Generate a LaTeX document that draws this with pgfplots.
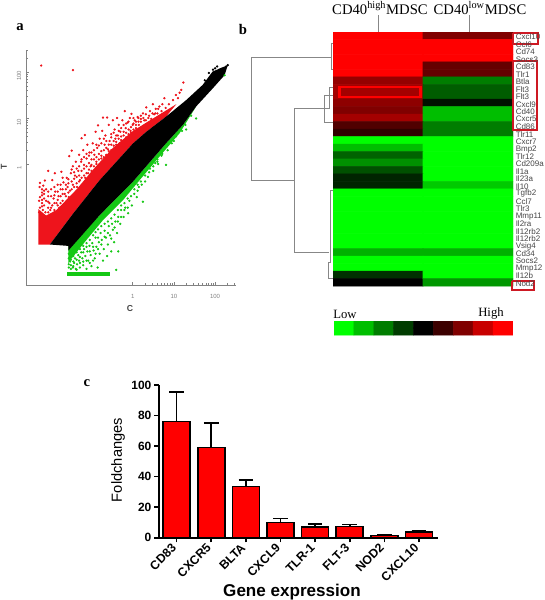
\documentclass[border=0pt]{standalone}
\usepackage{fontspec}
\setmainfont{Liberation Sans}
\newfontfamily\serif{Liberation Serif}
\usepackage{pgfplots}
\usepackage{pgfplotstable}
\pgfplotsset{compat=1.18}
\definecolor{scred}{RGB}{238,20,28}
\definecolor{scgreen}{RGB}{20,200,20}
\definecolor{axgray}{RGB}{130,130,130}
\definecolor{dendro}{RGB}{135,135,135}
\definecolor{boxred}{RGB}{205,25,35}
\definecolor{lab}{RGB}{70,70,70}
\pgfplotsset{colormap={hm}{rgb255=(0,255,0) rgb255=(0,190,0) rgb255=(0,125,0) rgb255=(0,60,0) rgb255=(0,0,0) rgb255=(60,0,0) rgb255=(128,0,0) rgb255=(200,0,0) rgb255=(255,0,0)}}
\pgfplotstableread{
u v
-2.22 2.14
-1.45 2.04
-2.27 -1.05
-2.25 -0.95
-2.22 -1.1
-2.2 -0.85
-2.27 -0.8
-2.18 -1.0
-2.25 -0.72
-2.15 -0.9
-2.12 -1.05
-2.1 -0.8
-2.05 -0.95
-2.2 -0.62
-2.26 -0.5
-2.25 -0.41
-2.13 -0.36
-2.17 -0.47
-2.1 -0.55
-2.05 -0.7
-2.02 -0.85
-2.0 -1.0
-2.05 -0.15
-1.95 -0.9
-1.92 -0.75
-1.9 -1.0
-1.88 -0.6
-1.85 -0.85
-1.82 -0.45
-1.8 -0.7
-1.78 -0.95
-1.75 -0.55
-1.73 -0.17
-1.7 -0.8
-1.68 -0.4
-1.65 -0.65
-1.62 -0.85
-1.6 -0.3
-1.58 -0.5
-1.55 -0.72
-1.52 -0.58
-1.5 -0.2
-1.89 -0.2
-1.95 -0.35
-1.54 0.17
-1.48 0.29
-1.45 -0.05
-1.45 -0.45
-1.42 -0.65
-1.4 -0.25
-1.38 0.05
-1.35 -0.5
-1.32 -0.15
-1.3 0.2
-1.28 -0.35
-1.25 0.05
-1.24 0.56
-1.22 -0.5
-1.2 0.3
-1.18 -0.1
-1.16 0.63
-1.15 -0.3
-1.12 0.12
-1.1 0.42
-1.08 -0.2
-1.05 -0.4
-1.05 0.25
-1.02 -0.05
-1.0 0.1
-0.97 0.45
-0.95 -0.25
-0.93 0.2
-0.9 0.7
-0.88 0.0
-0.86 0.35
-0.84 0.84
-0.82 0.1
-0.8 0.55
-0.78 -0.1
-0.76 0.28
-0.74 0.72
-0.72 1.01
-0.7 0.05
-0.68 0.42
-0.66 0.62
-0.64 0.18
-0.62 1.01
-0.6 0.32
-0.58 0.85
-0.56 0.5
-0.54 0.12
-0.52 0.65
-0.5 0.25
-0.48 0.95
-0.46 0.4
-0.44 0.75
-0.42 0.55
-0.4 0.3
-0.38 1.0
-0.36 0.62
-0.34 0.85
-0.32 0.45
-0.3 0.7
-0.28 0.52
-0.25 0.95
-0.22 0.62
-0.19 1.15
-0.17 0.78
-0.14 0.55
-0.12 0.9
-0.1 0.65
-0.07 1.0
-0.05 0.72
-0.03 1.09
0 0.85
0.05 0.95
0.08 0.78
0.12 1.02
0.15 0.85
0.2 0.92
0.25 1.1
0.28 0.95
0.33 1.23
0.38 1.0
0.42 1.15
0.45 0.98
0.49 1.3
0.52 1.08
0.56 1.2
0.6 1.1
0.65 1.25
0.7 1.15
0.77 1.43
0.8 1.22
0.88 1.3
0.98 1.39
1.05 1.5
1.1 1.43
1.18 1.61
1.23 1.77
1.14 1.55
}\redpts
\pgfplotstableread{
u v
-1.55 -2.25
-1.5 -2.2
-1.52 -2.12
-1.45 -2.25
-1.42 -2.15
-1.4 -2.05
-1.38 -2.28
-1.35 -2.18
-1.32 -1.98
-1.3 -2.1
-1.28 -2.25
-1.25 -1.92
-1.22 -2.05
-1.2 -2.2
-1.18 -1.85
-1.15 -2.0
-1.12 -2.28
-1.1 -1.9
-1.08 -2.1
-1.05 -1.78
-1.02 -1.98
-1.0 -2.22
-0.98 -1.72
-0.95 -1.88
-0.92 -2.05
-0.9 -1.6
-0.88 -1.8
-0.85 -2.25
-0.82 -1.7
-0.8 -1.95
-0.78 -1.5
-0.75 -1.65
-0.72 -2.1
-0.7 -1.85
-0.68 -1.45
-0.65 -1.6
-0.62 -2.0
-0.6 -1.75
-0.58 -1.35
-0.55 -1.55
-0.52 -1.9
-0.5 -1.3
-0.48 -1.43
-0.45 -1.7
-0.42 -1.25
-0.4 -2.3
-0.38 -1.5
-0.35 -1.9
-0.35 -1.15
-0.3 -1.3
-0.28 -1.0
-0.22 -1.15
-0.18 -0.95
-0.11 -1.07
-0.08 -0.8
-0.02 -0.9
0.04 -0.65
0.1 -0.72
0.15 -0.5
0.25 -0.82
0.22 -0.45
0.3 -0.38
0.37 -0.28
0.42 -0.1
0.5 -0.15
0.55 0.02
0.62 0.0
0.7 0.18
0.81 -0.02
0.85 0.42
0.95 0.45
1.05 0.6
1.2 0.72
1.28 0.85
1.42 1.05
1.54 0.99
2.23 1.93
}\greenpts
\pgfplotstableread{
u v
1.75 1.82
1.85 1.98
1.95 2.05
2.0 2.08
2.05 2.12
2.1 2.05
2.0 1.98
2.12 1.97
2.18 2.02
2.27 2.12
2.31 2.15
1.9 1.85
2.15 2.07
}\blackpts
\pgfplotstableread{
x y c
0 1 4
1 1 2
0 2 4
1 2 4
0 3 4
1 3 4
0 4 4
1 4 4
0 5 4
1 5 1.6
0 6 4
1 6 1.6
0 7 2.3
1 7 -2
0 8 2.5
1 8 -1.5
0 9 2.5
1 9 -1.5
0 10 2.2
1 10 -0.3
0 11 2
1 11 -3
0 12 2.5
1 12 -3
0 13 1.3
1 13 -2
0 14 0.8
1 14 -2
0 15 -4
1 15 -4
0 16 -3
1 16 -4
0 17 -1.6
1 17 -4
0 18 -2.3
1 18 -4
0 19 -1.3
1 19 -4
0 20 -0.6
1 20 -4
0 21 -0.6
1 21 -3.2
0 22 -4
1 22 -4
0 23 -4
1 23 -4
0 24 -4
1 24 -4
0 25 -4
1 25 -4
0 26 -4
1 26 -4
0 27 -4
1 27 -4
0 28 -4
1 28 -4
0 29 -4
1 29 -4
0 30 -2.8
1 30 -2.8
0 31 -4
1 31 -4
0 32 -4
1 32 -4
0 33 -0.8
1 33 -4
0 34 0
1 34 -2.4
}\heat
\pgfplotstableread{
x y c
0 0 -4
1 0 -3
2 0 -2
3 0 -1
4 0 0
5 0 1
6 0 2
7 0 3
8 0 4
0 1 -4
1 1 -3
2 1 -2
3 1 -1
4 1 0
5 1 1
6 1 2
7 1 3
8 1 4
}\cbar
\pgfplotstableread{
i val err
0 76 19.5
1 59 16.3
2 33.5 4.5
3 10 2.5
4 7 2
5 7.3 1.5
6 1.3 0.7
7 3.8 1
}\bars
\begin{document}
\begin{tikzpicture}
\useasboundingbox (0pt,0pt) rectangle (408pt,-450pt);
\fill[white] (0pt,0pt) rectangle (408pt,-450pt);
% panel a
\begin{axis}[
  at={(19.5pt,-213.75pt)},anchor=south west,scale only axis,
  width=157.5pt,height=176.25pt,
  xmin=-2.589,xmax=2.508,ymin=-2.63,ymax=2.478,
  axis lines=left,axis line style={draw=axgray,-,line width=0.6pt},
  xtick={0,1,2},xticklabels={1,10,100},
  ytick={0,1,2},yticklabels={1,10,100},
  minor xtick={0.301,0.477,0.602,0.699,0.778,0.845,0.903,0.954,1.301,1.477,1.602,1.699,1.778,1.845,1.903,1.954,2.301,2.477},
  minor ytick={0.301,0.477,0.602,0.699,0.778,0.845,0.903,0.954,1.301,1.477,1.602,1.699,1.778,1.845,1.903,1.954,2.301,2.477},
  tick align=inside,
  major tick length=2pt,minor tick length=1.5pt,
  tick style={draw=axgray,line width=0.4pt},
  tick label style={font=\fontsize{4.5}{5}\selectfont,text=axgray},
  /pgf/number format/assume math mode=true,
  xticklabel style={yshift=-3.5pt},
  yticklabel style={rotate=90,anchor=south,xshift=-3pt},
  clip=false,
]
\addplot[fill=scred,draw=none] coordinates {(-2.29,-1.75)(-2.01,-1.75)(-1.44,-1.07)(-0.80,-0.35)(0.01,0.45)(0.33,0.70)(0.81,1.03)(1.06,1.30)(0.73,1.12)(0.33,0.90)(0.01,0.72)(-0.48,0.35)(-0.96,-0.12)(-1.36,-0.55)(-1.85,-1.0)(-2.1,-1.12)(-2.29,-0.98)} -- cycle;
\addplot[fill=scgreen,draw=none] coordinates {(-1.56,-1.78)(-0.80,-1.11)(0.01,-0.38)(0.81,0.45)(1.22,0.85)(1.54,1.25)(1.14,0.67)(0.65,0.16)(0.17,-0.35)(-0.23,-0.78)(-0.72,-1.22)(-1.12,-1.65)(-1.48,-2.05)(-1.56,-2.16)} -- cycle;
\addplot[fill=scgreen,draw=none] coordinates {(-1.60,-2.43)(-0.56,-2.43)(-0.56,-2.34)(-1.60,-2.34)} -- cycle;
\addplot[only marks,color=scred,mark=*,mark size=0.65pt] table[x=u,y=v] {\redpts};
\addplot[only marks,color=scred,mark=*,mark size=0.65pt] coordinates {(-2.2,-0.78)(-2.2,-0.68)(-2.2,-0.92)(-2.2,-0.55)(-2.15,-0.75)(-2.15,-0.58)(-2.15,-0.65)(-2.05,-1.05)(-2.05,-0.82)(-2.05,-0.6)(-1.98,-0.95)(-1.98,-0.7)(-1.98,-0.55)(-1.9,-0.85)(-1.9,-0.68)(-1.9,-0.5)(-1.82,-0.9)(-1.82,-0.78)(-1.82,-0.6)(-1.75,-0.85)(-1.75,-0.7)(-1.75,-0.45)(-1.7,-0.65)(-1.7,-0.55)(-1.7,-0.3)(-1.62,-0.7)(-1.62,-0.55)(-1.62,-0.45)(-1.56,-0.62)(-1.56,-0.42)(-1.56,-0.33)(-1.48,-0.55)(-1.48,-0.38)(-1.48,-0.12)(-1.42,-0.5)(-1.42,-0.32)(-1.42,-0.18)(-1.36,-0.42)(-1.36,-0.28)(-1.36,-0.1)(-1.3,-0.38)(-1.3,-0.25)(-1.3,-0.05)(-1.24,-0.3)(-1.24,-0.15)(-1.24,0.1)(-1.18,-0.25)(-1.18,-0.02)(-1.18,0.15)(-1.12,-0.2)(-1.12,-0.05)(-1.12,0.22)(-1.06,-0.12)(-1.06,0.02)(-1.06,0.18)(-1.0,-0.15)(-1.0,-0.02)(-1.0,0.25)(-0.94,-0.05)(-0.94,0.1)(-0.94,0.3)(-0.88,0.05)(-0.88,0.15)(-0.88,0.42)(-0.82,-0.02)(-0.82,0.22)(-0.82,0.4)(-0.76,0.12)(-0.76,0.18)(-0.76,0.45)(-0.7,0.15)(-0.7,0.3)(-0.7,0.55)(-0.64,0.2)(-0.64,0.35)(-0.64,0.5)(-0.58,0.18)(-0.58,0.28)(-0.58,0.42)(-0.52,0.3)(-0.52,0.42)(-0.52,0.58)(-0.46,0.32)(-0.46,0.5)(-0.46,0.68)(-0.4,0.42)(-0.4,0.48)(-0.4,0.62)(-0.34,0.4)(-0.34,0.55)(-0.34,0.72)(-0.28,0.45)(-0.28,0.6)(-0.28,0.78)(-0.22,0.5)(-0.22,0.7)(-0.22,0.85)(-0.16,0.58)(-0.16,0.68)(-0.16,0.88)(-0.1,0.55)(-0.1,0.75)(-0.1,0.92)(-0.04,0.68)(-0.04,0.8)(0.02,0.75)(0.02,0.88)(0.02,1.0)(0.08,0.85)(0.08,0.92)(0.14,0.92)(0.14,1.0)(0.2,0.98)(0.2,1.05)(0.26,1.0)(0.32,0.95)(0.32,1.08)(0.4,1.05)(0.48,1.1)(0.55,1.1)(0.62,1.2)(0.72,1.3)};
\addplot[only marks,color=scgreen,mark=*,mark size=0.65pt] table[x=u,y=v] {\greenpts};
\addplot[only marks,color=scgreen,mark=*,mark size=0.65pt] coordinates {(-1.55,-2.05)(-1.55,-2.18)(-1.55,-1.95)(-1.5,-2.08)(-1.5,-2.28)(-1.44,-2.12)(-1.44,-2.22)(-1.44,-2.0)(-1.36,-2.08)(-1.36,-1.92)(-1.36,-2.3)(-1.28,-2.02)(-1.28,-1.85)(-1.28,-2.15)(-1.2,-1.92)(-1.2,-1.78)(-1.2,-2.12)(-1.12,-2.1)(-1.12,-1.8)(-1.12,-1.72)(-1.04,-1.65)(-1.04,-1.9)(-1.04,-2.15)(-0.96,-1.55)(-0.96,-1.8)(-0.96,-2.1)(-0.9,-1.48)(-0.9,-1.95)(-0.84,-1.42)(-0.84,-1.6)(-0.84,-1.85)(-0.76,-1.35)(-0.76,-1.75)(-0.68,-1.3)(-0.68,-1.58)(-0.6,-1.25)(-0.6,-1.5)(-0.52,-1.18)(-0.52,-1.62)(-0.44,-1.1)(-0.44,-1.38)(-0.36,-1.0)(-0.36,-1.25)(-0.28,-0.9)(-0.28,-1.15)(-0.2,-0.85)(-0.2,-1.0)(-0.12,-0.75)(-0.12,-0.95)(-0.04,-0.7)(0.04,-0.55)(0.12,-0.45)(0.12,-0.58)(0.2,-0.38)(0.3,-0.25)(0.4,-0.18)(0.5,-0.05)(0.6,0.05)(0.6,0.1)(0.72,0.22)(0.85,0.3)(1.0,0.5)(1.3,0.75)};
\addplot[fill=black,draw=none] coordinates {(-2.01,-1.75)(-1.56,-1.78)(-1.56,-1.88)(-0.80,-1.11)(0.01,-0.38)(0.81,0.45)(1.22,0.85)(1.54,1.25)(1.94,1.64)(2.23,1.93)(2.31,2.15)(1.94,2.01)(1.70,1.72)(1.30,1.39)(0.81,1.03)(0.33,0.70)(0.01,0.45)(-0.80,-0.35)(-1.44,-1.07)} -- cycle;
\addplot[only marks,color=black,mark=*,mark size=0.65pt] table[x=u,y=v] {\blackpts};
\end{axis}
% panel b heat map
\begin{axis}[
  at={(249.75pt,-24pt)},anchor=north west,scale only axis,
  width=135pt,height=190.5pt,
  xmin=-0.5,xmax=1.5,ymin=0.5,ymax=34.5,y dir=reverse,
  hide axis,colormap name=hm,point meta min=-4,point meta max=4,
]
\addplot[matrix plot*,mesh/cols=2,point meta=explicit] table[x=x,y=y,meta=c] {\heat};
\end{axis}
% panel b colour key
\begin{axis}[
  at={(250.5pt,-240.75pt)},anchor=north west,scale only axis,
  width=134.25pt,height=10.5pt,
  xmin=-0.5,xmax=8.5,ymin=-0.5,ymax=1.5,
  hide axis,colormap name=hm,point meta min=-4,point meta max=4,
]
\addplot[matrix plot*,mesh/cols=9,point meta=explicit] table[x=x,y=y,meta=c] {\cbar};
\end{axis}
% panel c
\begin{axis}[
  at={(119.25pt,-403.3pt)},anchor=south west,scale only axis,
  width=209.25pt,height=114.5pt,
  xmin=-0.51,xmax=7.55,ymin=0,ymax=100,
  axis lines=left,axis line style={draw=black,-,line width=1.2pt},
  xtick={0,...,7},xticklabels={CD83,CXCR5,BLTA,CXCL9,TLR-1,FLT-3,NOD2,CXCL10},
  ytick={0,20,40,60,80,100},
  tick align=outside,major tick length=3.5pt,
  tick style={draw=black,line width=1.2pt},
  tick label style={font=\bfseries\fontsize{9.2}{10}\selectfont},
  /pgf/number format/assume math mode=true,
  xticklabel style={rotate=45,anchor=north east,inner sep=1pt,xshift=-2pt,yshift=4pt},
  yticklabel style={font=\bfseries\fontsize{9}{10}\selectfont,inner sep=2pt},
  clip=false,
]
\addplot[ybar,bar width=0.78,fill=red,draw=black,line width=1.1pt,bar shift=0pt,
  error bars/.cd,y dir=plus,y explicit,error mark options={rotate=90,mark size=5.5pt,line width=1.2pt},error bar style={line width=1.2pt,black}]
  table[x=i,y=val,y error=err] {\bars};
\end{axis}
% overlay in picture pixels: dendrogram, boxes and text
\begin{axis}[
  at={(0pt,0pt)},anchor=north west,scale only axis,
  width=408pt,height=450pt,
  xmin=0,xmax=544,ymin=0,ymax=600,y dir=reverse,
  hide axis,clip=false,
]
\addplot[dendro,line width=0.7pt] coordinates {(333,43)(331,43)(331,69)(333,69)};
\addplot[dendro,line width=0.7pt] coordinates {(331,57)(251,57)(251,180)(294,180)};
\addplot[dendro,line width=0.7pt] coordinates {(324,108)(294,108)(294,252)(329,252)};
\addplot[dendro,line width=0.7pt] coordinates {(333,87)(329,87)(329,108)(324,108)};
\addplot[dendro,line width=0.7pt] coordinates {(333,95)(324,95)(324,122)(333,122)};
\addplot[dendro,line width=0.7pt] coordinates {(333,190)(330,190)(330,262)(328,262)(328,278)(333,278)};
\addplot[dendro,line width=0.7pt] coordinates {(378,15)(378,32)};
\addplot[dendro,line width=0.7pt] coordinates {(469,15)(469,32)};
\addplot[boxred,line width=0.9pt] coordinates {(513,33)(538,33)(538,44)(513,44)(513,33)};
\addplot[boxred,line width=0.9pt] coordinates {(513,61)(537,61)(537,130)(513,130)(513,61)};
\addplot[boxred,line width=0.9pt] coordinates {(512,281)(534,281)(534,290)(512,290)(512,281)};
\addplot[red,line width=0.8pt] coordinates {(340,87)(420,87)(420,97)(340,97)(340,87)};
\addplot[red,line width=1.2pt] coordinates {(339,86)(339,98)};
\addplot[red,line width=1.2pt] coordinates {(421,86)(421,98)};
% letters
\node[font=\serif\bfseries\fontsize{11}{12}\selectfont] at (axis cs:20,27) {a};
\node[font=\serif\bfseries\fontsize{11}{12}\selectfont] at (axis cs:243,29) {b};
\node[font=\serif\bfseries\fontsize{11}{12}\selectfont] at (axis cs:87,383) {c};
% panel a titles
\node[rotate=90,font=\bfseries\fontsize{6.5}{7}\selectfont,text=lab] at (axis cs:4,167) {T};
\node[font=\bfseries\fontsize{6.5}{7}\selectfont,text=lab] at (axis cs:130,309) {C};
% headers
\node[font=\serif\fontsize{11}{12}\selectfont,text=black] at (axis cs:380,8) {CD40\textsuperscript{high}MDSC};
\node[font=\serif\fontsize{11}{12}\selectfont,text=black] at (axis cs:480,8) {CD40\textsuperscript{low}MDSC};
% row labels
\foreach \ypos/\name in {37/Cxcl10,44.5/Ccl6,52/Cd74,59.4/Socs3,66.9/Cd83,74.4/Tlr1,81.9/Btla,89.3/Flt3,96.8/Flt3,104.3/Cxcl9,111.7/Cd40,119.2/Cxcr5,126.7/Cd86,134.2/Tlr11,141.6/Cxcr7,149.1/Bmp2,156.6/Tlr12,164/Cd209a,171.5/Il1a,179/Il23a,186.5/Il10,193.9/Tgfb2,201.4/Ccl7,208.9/Tlr3,216.3/Mmp11,223.8/Il2ra,231.3/Il12rb2,238.8/Il12rb2,246.2/Vsig4,253.7/Cd34,261.2/Socs2,268.6/Mmp12,276.1/Il12b,284/Nod2}{
  \edef\temp{\noexpand\node[anchor=west,inner sep=0pt,font=\noexpand\fontsize{6}{7}\noexpand\selectfont,text=lab] at (axis cs:515.5,\ypos) {\name};}
  \temp
}
% key
\node[font=\serif\fontsize{9.5}{11}\selectfont] at (axis cs:345,314) {Low};
\node[font=\serif\fontsize{9.5}{11}\selectfont] at (axis cs:491,313) {High};
% panel c titles
\node[rotate=90,font=\fontsize{11}{12}\selectfont] at (axis cs:118,460) {Foldchanges};
\node[font=\bfseries\fontsize{12.8}{14}\selectfont] at (axis cs:292,592) {Gene expression};
\end{axis}
\end{tikzpicture}
\end{document}
